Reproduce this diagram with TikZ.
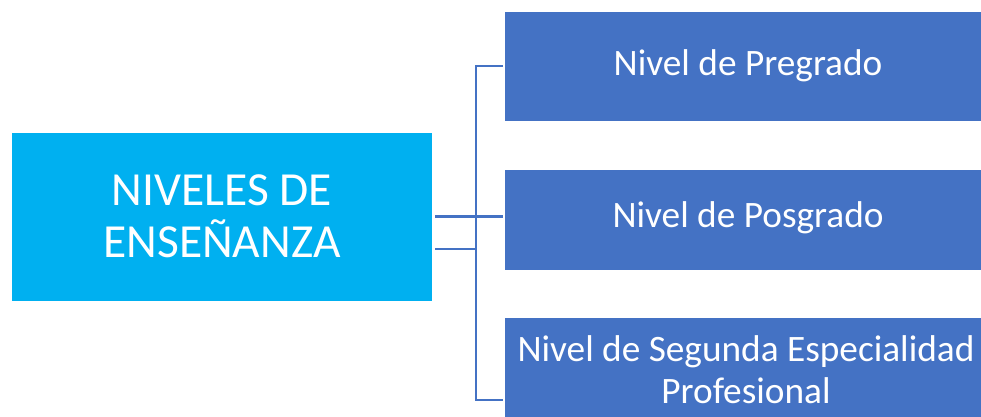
\documentclass[tikz,border=0pt]{standalone}
\usepackage{fontspec}
\setmainfont{Carlito}
\definecolor{cyanbox}{HTML}{00B0F0}
\definecolor{bluebox}{HTML}{4472C4}
\begin{document}
\begin{tikzpicture}[x=1pt,y=-1pt,
  leftbox/.style={fill=cyanbox,draw=none},
  rightbox/.style={fill=bluebox,draw=none},
  lbl/.style={text=white,align=center,inner sep=0pt},
  conn/.style={draw=bluebox,line width=2.2pt}]
\useasboundingbox (0,0) rectangle (981,416);
\clip (0,0) rectangle (981,416);
% boxes
\path[leftbox] (12,133) rectangle (432,301);
\node[lbl,font=\fontsize{47.5}{52}\selectfont] (left) at (222,216) {NIVELES DE\\ENSEÑANZA};
\path[rightbox] (505,12) rectangle (992,121);
\path[rightbox] (505,170) rectangle (992,270);
\path[rightbox] (505,318) rectangle (992,430);
\node[lbl,font=\fontsize{37.3}{42}\selectfont] (r1) at (748,66) {Nivel de Pregrado};
\node[lbl,font=\fontsize{37.3}{42}\selectfont] (r2) at (748,218) {Nivel de Posgrado};
\node[lbl,font=\fontsize{37.3}{42}\selectfont] (r3) at (746,370) {Nivel de Segunda Especialidad\\Profesional};
% connector coordinates
\coordinate (a1) at (435,216.5);
\coordinate (a2) at (435,249);
\coordinate (v1) at (475.7,66);
\coordinate (v2) at (475.7,249);
\coordinate (v3) at (475.7,400);
\coordinate (b1) at (503,66);
\coordinate (b2) at (503,216.5);
\coordinate (b3) at (503,400);
\draw[conn] (b1) -- (v1) -- (v3) -- (b3);
\draw[conn] (a1) -- (b2);
\draw[conn] (a2) -- (v2);
\end{tikzpicture}
\end{document}
